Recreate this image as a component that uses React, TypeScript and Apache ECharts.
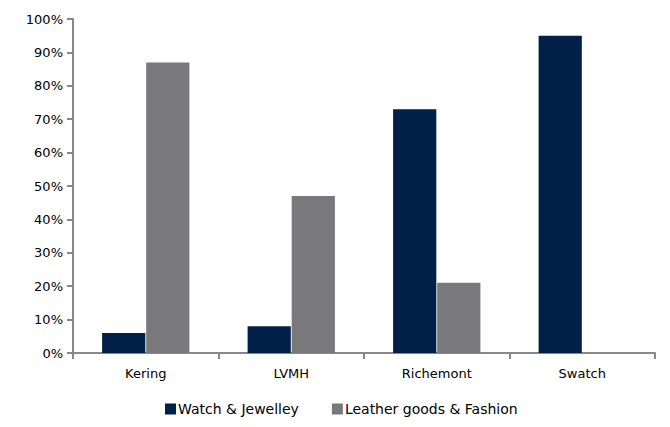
import React, { useEffect, useRef } from "react";
import * as echarts from "echarts";

const categories = ["Kering", "LVMH", "Richemont", "Swatch"];
const watchJewellery = [6, 8, 73, 95];
const leatherFashion = [87, 47, 21, 0];
const seriesNames = ["Watch & Jewelley", "Leather goods & Fashion"];

export default function App() {
  const ref = useRef<HTMLDivElement>(null);
  useEffect(() => {
    const chart = echarts.init(ref.current!, null, { renderer: "svg" });
    const font = "'DejaVu Sans', sans-serif";
    chart.setOption({
      animation: false,
      textStyle: { fontFamily: font },
      grid: { left: 73, right: 15, top: 19, bottom: 74 },
      legend: {
        bottom: 6,
        left: 160,
        itemWidth: 11,
        itemHeight: 11,
        itemGap: 33,
        icon: "rect",
        textStyle: { fontSize: 14, color: "#000", fontFamily: font, padding: [0, 0, 0, -3] },
        data: seriesNames,
      },
      xAxis: {
        type: "category",
        data: categories,
        axisLine: { lineStyle: { color: "#888", width: 2 } },
        axisTick: { show: true, length: 6, lineStyle: { color: "#888", width: 2 } },
        axisLabel: { color: "#000", fontSize: 13, margin: 14, fontFamily: font },
      },
      yAxis: {
        type: "value",
        min: 0,
        max: 100,
        interval: 10,
        splitLine: { show: false },
        axisLine: { show: true, lineStyle: { color: "#888", width: 2 } },
        axisTick: { show: true, length: 6, lineStyle: { color: "#888", width: 2 } },
        axisLabel: { color: "#000", fontSize: 13, margin: 10, formatter: "{value}%", fontFamily: font },
      },
      series: [
        {
          name: seriesNames[0],
          type: "bar",
          data: watchJewellery,
          itemStyle: { color: "#012047" },
          barGap: "2%",
          barCategoryGap: "40%",
        },
        {
          name: seriesNames[1],
          type: "bar",
          data: leatherFashion,
          itemStyle: { color: "#79797b" },
          barGap: "2%",
          barCategoryGap: "40%",
        },
      ],
    });
    return () => chart.dispose();
  }, []);
  return <div ref={ref} style={{ width: 670, height: 427, margin: -8 }} />;
}
